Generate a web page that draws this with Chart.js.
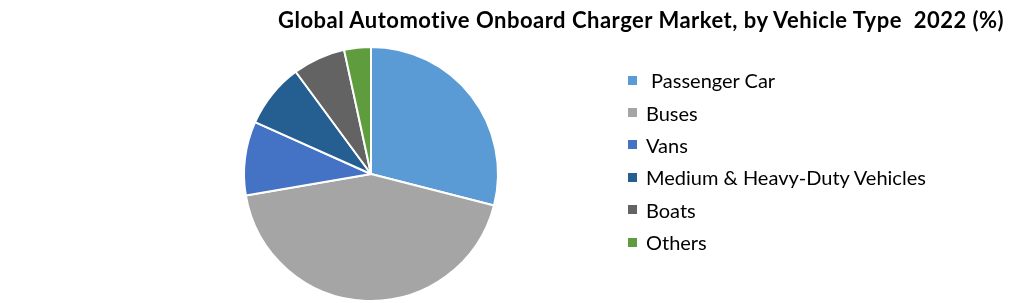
<!DOCTYPE html>
<html>
<head>
<meta charset="utf-8">
<script src="https://cdn.jsdelivr.net/npm/chart.js@4.4.0/dist/chart.umd.min.js"></script>
<style>
  html, body { margin: 0; padding: 0; background: #fff; }
  #wrap { position: relative; width: 1020px; height: 303px; overflow: hidden; }
  #title { position: absolute; left: 278px; top: 6px; font: bold 22px Lato, sans-serif; letter-spacing: 0.5px; color: #000; white-space: pre; }
  #legend { position: absolute; left: 628px; top: 64px; font: 20px Lato, sans-serif; color: #000; }
  #legend div { height: 32.4px; display: flex; align-items: center; white-space: pre; }
  #legend span.box { display: inline-block; width: 9px; height: 9px; margin-right: 9px; }
</style>
</head>
<body>
<div id="wrap">
  <canvas id="chart" width="1020" height="303"></canvas>
  <div id="title">Global Automotive Onboard Charger Market, by Vehicle Type  2022 (%)</div>
  <div id="legend"></div>
</div>
<script>
  var labels = [' Passenger Car', 'Buses', 'Vans', 'Medium & Heavy-Duty Vehicles', 'Boats', 'Others'];
  var shares = [29.0, 43.3, 9.4, 8.2, 6.7, 3.4];
  var colors = ['#5b9bd5', '#a5a5a5', '#4472c4', '#255e91', '#636363', '#5e9c3e'];

  /* legend */
  var legend = document.getElementById('legend');
  for (let i = 0; i < labels.length; i++) {
    let row = document.createElement('div');
    let box = document.createElement('span');
    box.className = 'box';
    box.style.background = colors[i];
    row.appendChild(box);
    row.appendChild(document.createTextNode(labels[i]));
    legend.appendChild(row);
  }

  const ctx = document.getElementById('chart').getContext('2d');
  new Chart(ctx, {
    type: 'pie',
    data: {
      labels: labels,
      datasets: [{
        data: shares,
        backgroundColor: colors,
        borderColor: '#ffffff',
        borderWidth: 2
      }]
    },
    options: {
      responsive: false,
      animation: false,
      layout: {
        padding: { top: 46, bottom: 1, left: 243, right: 521 }
      },
      plugins: {
        legend: { display: false },
        tooltip: { enabled: false }
      }
    }
  });
</script>
</body>
</html>
